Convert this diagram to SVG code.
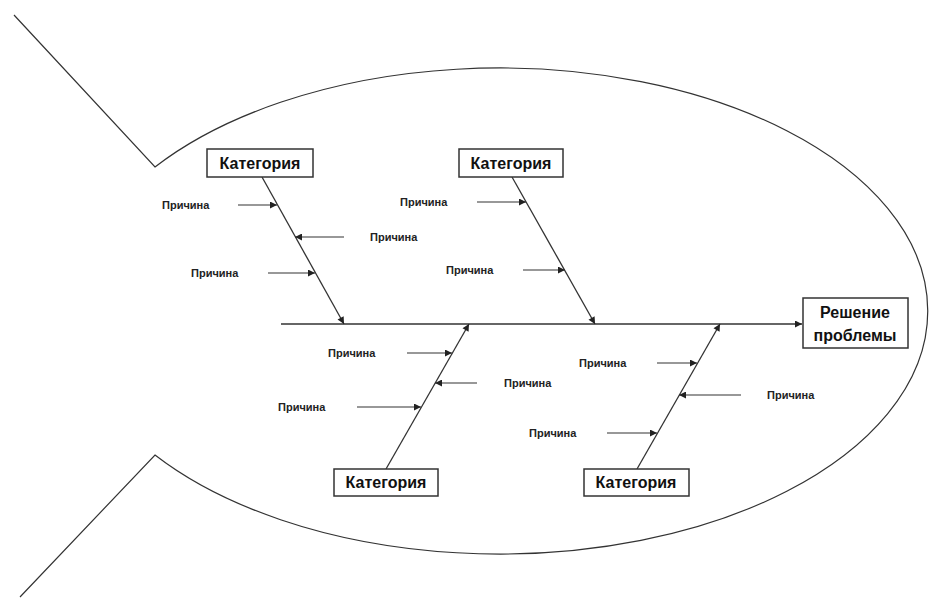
<svg xmlns="http://www.w3.org/2000/svg" width="930" height="601" viewBox="0 0 930 601">
<defs>
<style>
.ln{stroke:#333;stroke-width:1.2;fill:none}
.bone{stroke:#333;stroke-width:1.3;fill:none}
.box{fill:#fff;stroke:#333;stroke-width:1.5}
.cat{font-family:"Liberation Sans",Arial,sans-serif;font-weight:bold;font-size:16px;fill:#111;text-anchor:middle}
.cause{font-family:"Liberation Sans",Arial,sans-serif;font-weight:bold;font-size:11px;fill:#222}
</style>
<marker id="ah" viewBox="0 0 10 10" refX="10" refY="5" markerWidth="9" markerHeight="7" orient="auto" markerUnits="userSpaceOnUse">
<path d="M0,0 L10,5 L0,10 z" fill="#222"/>
</marker>
</defs>
<rect width="930" height="601" fill="#fff"/>
<g id="fish">
<path class="ln" d="M14,15 L155,167 A428,243 0 1,1 155,455 L20,597"/>
</g>
<g id="connectors">
<line class="bone" x1="281" y1="324" x2="802" y2="324" marker-end="url(#ah)" stroke="#555"/>
<line class="bone" x1="262" y1="177" x2="344" y2="324" marker-end="url(#ah)"/>
<line class="bone" x1="512" y1="177" x2="595" y2="324" marker-end="url(#ah)"/>
<line class="bone" x1="386" y1="469" x2="469" y2="324" marker-end="url(#ah)"/>
<line class="bone" x1="637" y1="469" x2="720" y2="324" marker-end="url(#ah)"/>
<line class="ln" x1="238" y1="205" x2="277" y2="205" marker-end="url(#ah)"/>
<line class="ln" x1="344" y1="237" x2="295" y2="237" marker-end="url(#ah)"/>
<line class="ln" x1="268" y1="273" x2="315" y2="273" marker-end="url(#ah)"/>
<line class="ln" x1="477" y1="202" x2="526" y2="202" marker-end="url(#ah)"/>
<line class="ln" x1="523" y1="270" x2="565" y2="270" marker-end="url(#ah)"/>
<line class="ln" x1="407" y1="353" x2="452" y2="353" marker-end="url(#ah)"/>
<line class="ln" x1="477" y1="383" x2="435" y2="383" marker-end="url(#ah)"/>
<line class="ln" x1="357" y1="407" x2="421" y2="407" marker-end="url(#ah)"/>
<line class="ln" x1="657" y1="363" x2="697" y2="363" marker-end="url(#ah)"/>
<line class="ln" x1="741" y1="395" x2="679" y2="395" marker-end="url(#ah)"/>
<line class="ln" x1="607" y1="433" x2="657" y2="433" marker-end="url(#ah)"/>
</g>
<g id="cat-top-left">
<rect class="box" x="207" y="149" width="106" height="28"/>
<text class="cat" x="260" y="169">Категория</text>
</g>
<g id="cat-top-center">
<rect class="box" x="459" y="149" width="104" height="28"/>
<text class="cat" x="511" y="169">Категория</text>
</g>
<g id="cat-bottom-left">
<rect class="box" x="334" y="469" width="104" height="27"/>
<text class="cat" x="386" y="488">Категория</text>
</g>
<g id="cat-bottom-right">
<rect class="box" x="584" y="469" width="105" height="27"/>
<text class="cat" x="636" y="488">Категория</text>
</g>
<g id="effect">
<rect class="box" x="803" y="298" width="105" height="50"/>
<text class="cat" x="855" y="318">Решение</text>
<text class="cat" x="855" y="341">проблемы</text>
</g>
<g id="causes">
<text class="cause" x="162" y="209">Причина</text>
<text class="cause" x="370" y="241">Причина</text>
<text class="cause" x="191" y="277">Причина</text>
<text class="cause" x="400" y="206">Причина</text>
<text class="cause" x="446" y="274">Причина</text>
<text class="cause" x="328" y="357">Причина</text>
<text class="cause" x="504" y="387">Причина</text>
<text class="cause" x="278" y="411">Причина</text>
<text class="cause" x="579" y="367">Причина</text>
<text class="cause" x="767" y="399">Причина</text>
<text class="cause" x="529" y="437">Причина</text>
</g>
</svg>
